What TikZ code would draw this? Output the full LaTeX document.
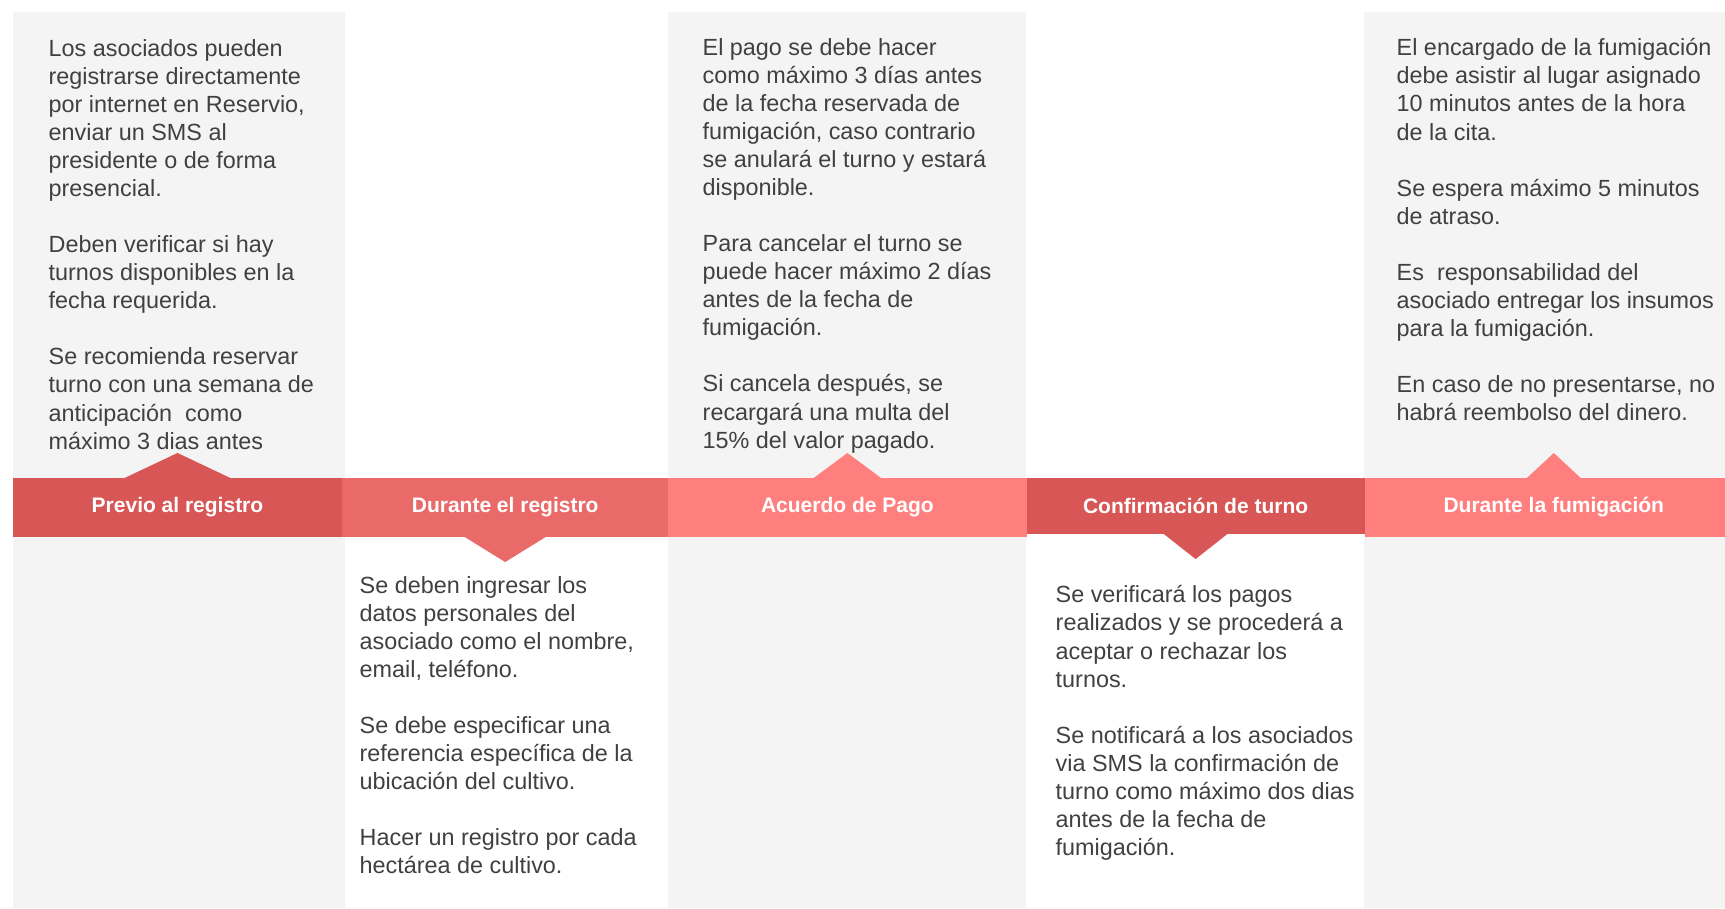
\documentclass[tikz,border=0pt]{standalone}
\usepackage{fontspec}
\setmainfont{Liberation Sans}
\usetikzlibrary{positioning}

\definecolor{panel}{HTML}{F4F4F4}
\definecolor{redA}{HTML}{D85656}
\definecolor{redB}{HTML}{EA6A6A}
\definecolor{redC}{HTML}{FF7F7F}
\definecolor{ink}{HTML}{404040}

\begin{document}
\begin{tikzpicture}[x=0.01cm, y=-0.01cm, node distance=0pt,
    stage/.style={inner sep=0pt, outer sep=0pt, minimum height=0.59cm, text=white,
      font=\fontsize{5.97}{7}\selectfont\bfseries},
    notes/.style={anchor=north west, inner sep=0pt, align=left, text=ink,
      font=\fontsize{6.65}{7.97}\selectfont}]

    \useasboundingbox (0,0) rectangle (1725,908);

% the columns

    \foreach \a/\b in {13/345, 668/1026, 1364/1725}
      \fill[panel] (\a,12) rectangle (\b,908);

% the notes

    \node[notes] (note1) at (48,39) {Los asociados pueden\\
    registrarse directamente\\
    por internet en Reservio,\\
    enviar un SMS al\\
    presidente o de forma\\
    presencial.\\[7.97pt]
    Deben verificar si hay\\
    turnos disponibles en la\\
    fecha requerida.\\[7.97pt]
    Se recomienda reservar\\
    turno con una semana de\\
    anticipación~ como\\
    máximo 3 dias antes};

    \node[notes] (note2) at (359,576) {Se deben ingresar los\\
    datos personales del\\
    asociado como el nombre,\\
    email, teléfono.\\[7.97pt]
    Se debe especificar una\\
    referencia específica de la\\
    ubicación del cultivo.\\[7.97pt]
    Hacer un registro por cada\\
    hectárea de cultivo.};

    \node[notes] (note3) at (702,38) {El pago se debe hacer\\
    como máximo 3 días antes\\
    de la fecha reservada de\\
    fumigación, caso contrario\\
    se anulará el turno y estará\\
    disponible.\\[7.97pt]
    Para cancelar el turno se\\
    puede hacer máximo 2 días\\
    antes de la fecha de\\
    fumigación.\\[7.97pt]
    Si cancela después, se\\
    recargará una multa del\\
    15\% del valor pagado.};

    \node[notes] (note4) at (1055,585) {Se verificará los pagos\\
    realizados y se procederá a\\
    aceptar o rechazar los\\
    turnos.\\[7.97pt]
    Se notificará a los asociados\\
    via SMS la confirmación de\\
    turno como máximo dos dias\\
    antes de la fecha de\\
    fumigación.};

    \node[notes] (note5) at (1396,38) {El encargado de la fumigación\\
    debe asistir al lugar asignado\\
    10 minutos antes de la hora\\
    de la cita.\\[7.97pt]
    Se espera máximo 5 minutos\\
    de atraso.\\[7.97pt]
    Es~ responsabilidad del\\
    asociado entregar los insumos\\
    para la fumigación.\\[7.97pt]
    En caso de no presentarse, no\\
    habrá reembolso del dinero.};

% the stages

    \node[stage, fill=redA, minimum width=3.29cm] (bar1) at (177.5,507.5) {Previo al registro};
    \node[stage, fill=redB, minimum width=3.26cm, right=of bar1] (bar2) {Durante el registro};
    \node[stage, fill=redC, minimum width=3.58cm, right=of bar2] (bar3) {Acuerdo de Pago};
    \node[stage, fill=redA, minimum width=3.38cm, minimum height=0.56cm,
      anchor=north west] (bar4) at (bar3.north east) {Confirmación de turno};
    \node[stage, fill=redC, minimum width=3.78cm,
      anchor=north west] (bar5) at (bar4.north east) {Durante la fumigación};

    % pointers up and down
    \foreach \b/\c/\w in {bar1/redA/0.55, bar3/redC/0.35, bar5/redC/0.28}
      \fill[\c] ([xshift=-\w cm, yshift=-0.01cm]\b.north) -- ([yshift=0.25cm]\b.north)
        -- ([xshift=\w cm, yshift=-0.01cm]\b.north) -- cycle;
    \foreach \b/\c/\w in {bar2/redB/0.42, bar4/redA/0.33}
      \fill[\c] ([xshift=-\w cm, yshift=0.01cm]\b.south) -- ([yshift=-0.25cm]\b.south)
        -- ([xshift=\w cm, yshift=0.01cm]\b.south) -- cycle;

\end{tikzpicture}
\end{document}
